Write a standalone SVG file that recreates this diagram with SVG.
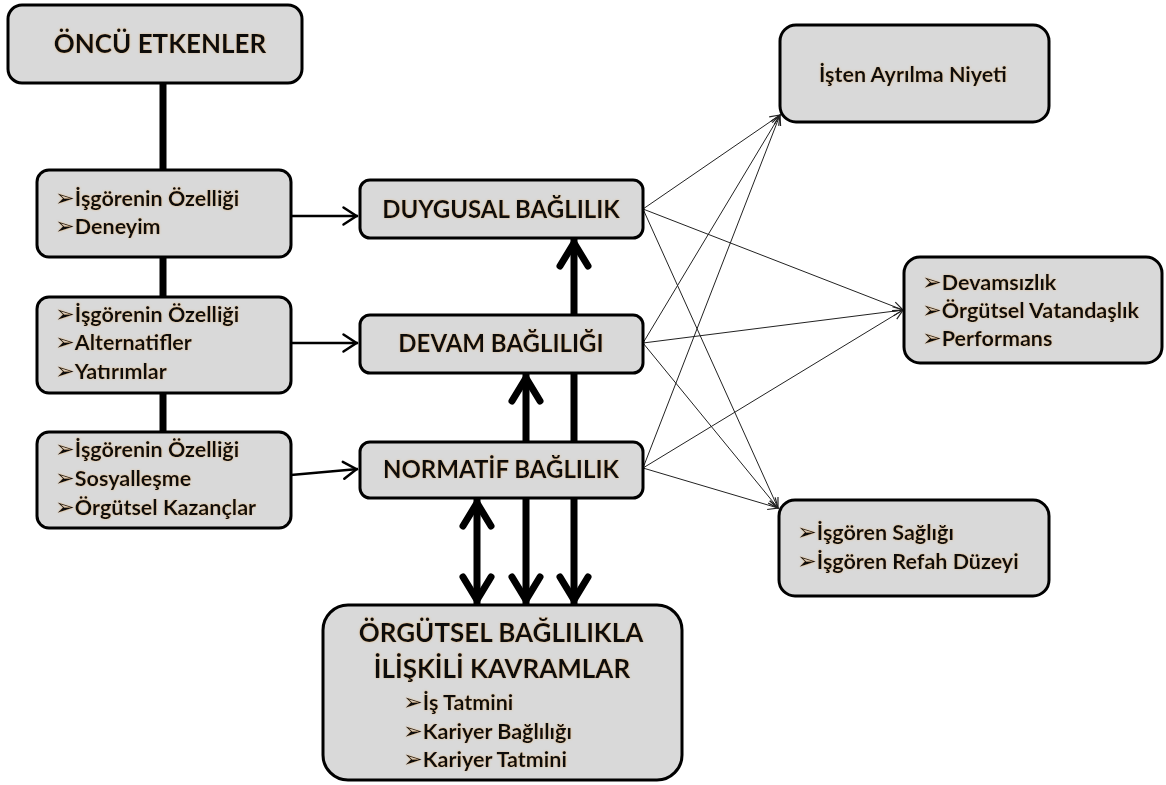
<svg xmlns="http://www.w3.org/2000/svg" width="1166" height="785" viewBox="0 0 1166 785">
<defs>
<style>
.box{fill:#d9d9d9;stroke:#000;stroke-width:3}
text{font-family:Lato,"Liberation Sans","DejaVu Sans",sans-serif;font-weight:bold;fill:#111;filter:url(#glow)}
.ar{font-family:"DejaVu Sans",sans-serif;font-size:1.1em;font-weight:bold}
.t20{font-size:21.5px}
.t22{font-size:24px}
.t24{font-size:26px}
.thin{stroke:#222;stroke-width:1;fill:none}
.mid{stroke:#000;stroke-width:2.5;fill:none}
.thick{stroke:#000;stroke-width:7;fill:none}
</style>
<filter id="glow" x="-5%" y="-20%" width="110%" height="140%">
<feGaussianBlur in="SourceAlpha" stdDeviation="0.9" result="b"/>
<feFlood flood-color="#e0a050" flood-opacity="0.55"/>
<feComposite in2="b" operator="in" result="g"/>
<feMerge><feMergeNode in="g"/><feMergeNode in="SourceGraphic"/></feMerge>
</filter>
<marker id="mThin" markerUnits="userSpaceOnUse" viewBox="-12 -8 14 16" markerWidth="14" markerHeight="16" refX="0" refY="0" orient="auto">
<path d="M-10,-4.5 L0,0 L-10,4.5" fill="none" stroke="#222" stroke-width="1.2"/>
</marker>
<marker id="mMid" markerUnits="userSpaceOnUse" viewBox="-16 -11 18 22" markerWidth="18" markerHeight="22" refX="1.5" refY="0" orient="auto">
<path d="M-13,-8.5 L0,0 L-13,8.5" fill="none" stroke="#000" stroke-width="2.5" stroke-linecap="round"/>
</marker>
<marker id="mThick" markerUnits="userSpaceOnUse" viewBox="-30 -22 38 44" markerWidth="38" markerHeight="44" refX="5" refY="0" orient="auto-start-reverse">
<path d="M-23,-14 L0,0 L-23,14" fill="none" stroke="#000" stroke-width="7" stroke-linecap="round" stroke-linejoin="miter"/>
</marker>
</defs>
<rect width="1166" height="785" fill="#fff"/>

<g id="connectors">
<line class="thick" x1="163" y1="82" x2="163" y2="432" stroke-width="8"/>
<line class="mid" x1="291" y1="216" x2="358" y2="216" marker-end="url(#mMid)"/>
<line class="mid" x1="291" y1="343" x2="358" y2="343" marker-end="url(#mMid)"/>
<line class="mid" x1="291" y1="475" x2="358" y2="469" marker-end="url(#mMid)"/>
<line class="thick" x1="574" y1="605" x2="574" y2="238" marker-start="url(#mThick)" marker-end="url(#mThick)"/>
<line class="thick" x1="526" y1="605" x2="526" y2="373" marker-start="url(#mThick)" marker-end="url(#mThick)"/>
<line class="thick" x1="477" y1="605" x2="477" y2="498" marker-start="url(#mThick)" marker-end="url(#mThick)"/>
<line class="thin" x1="643" y1="209" x2="780" y2="115" marker-end="url(#mThin)"/>
<line class="thin" x1="643" y1="209" x2="903" y2="310" marker-end="url(#mThin)"/>
<line class="thin" x1="643" y1="209" x2="778" y2="508" marker-end="url(#mThin)"/>
<line class="thin" x1="643" y1="343" x2="780" y2="115" marker-end="url(#mThin)"/>
<line class="thin" x1="643" y1="343" x2="903" y2="310" marker-end="url(#mThin)"/>
<line class="thin" x1="643" y1="343" x2="778" y2="508" marker-end="url(#mThin)"/>
<line class="thin" x1="643" y1="468" x2="780" y2="115" marker-end="url(#mThin)"/>
<line class="thin" x1="643" y1="468" x2="903" y2="310" marker-end="url(#mThin)"/>
<line class="thin" x1="643" y1="468" x2="778" y2="508" marker-end="url(#mThin)"/>
</g>

<g id="oncu">
<rect class="box" x="8" y="5" width="294" height="78" rx="14"/>
<text class="t24" x="160" y="53" text-anchor="middle">ÖNCÜ ETKENLER</text>
</g>
<g id="etken1">
<rect class="box" x="37" y="170" width="254" height="87" rx="12"/>
<text class="t20" x="55" y="206"><tspan class="ar">➢</tspan>İşgörenin Özelliği</text>
<text class="t20" x="55" y="234"><tspan class="ar">➢</tspan>Deneyim</text>
</g>
<g id="etken2">
<rect class="box" x="37" y="297" width="254" height="96" rx="12"/>
<text class="t20" x="55" y="322"><tspan class="ar">➢</tspan>İşgörenin Özelliği</text>
<text class="t20" x="55" y="350"><tspan class="ar">➢</tspan>Alternatifler</text>
<text class="t20" x="55" y="379"><tspan class="ar">➢</tspan>Yatırımlar</text>
</g>
<g id="etken3">
<rect class="box" x="37" y="432" width="254" height="96" rx="12"/>
<text class="t20" x="55" y="457"><tspan class="ar">➢</tspan>İşgörenin Özelliği</text>
<text class="t20" x="55" y="486"><tspan class="ar">➢</tspan>Sosyalleşme</text>
<text class="t20" x="55" y="515"><tspan class="ar">➢</tspan>Örgütsel Kazançlar</text>
</g>
<g id="duygusal">
<rect class="box" x="360" y="180" width="283" height="58" rx="10"/>
<text class="t22" x="501" y="218" text-anchor="middle">DUYGUSAL BAĞLILIK</text>
</g>
<g id="devam">
<rect class="box" x="360" y="315" width="283" height="58" rx="10"/>
<text class="t22" x="501" y="352" text-anchor="middle">DEVAM BAĞLILIĞI</text>
</g>
<g id="normatif">
<rect class="box" x="360" y="442" width="283" height="56" rx="10"/>
<text class="t22" x="501" y="478" text-anchor="middle">NORMATİF BAĞLILIK</text>
</g>
<g id="orgutsel">
<rect class="box" x="323" y="605" width="359" height="175" rx="25"/>
<text class="t24" x="501" y="642" text-anchor="middle">ÖRGÜTSEL BAĞLILIKLA</text>
<text class="t24" x="502" y="678" text-anchor="middle">İLİŞKİLİ KAVRAMLAR</text>
<text class="t20" x="403" y="710"><tspan class="ar">➢</tspan>İş Tatmini</text>
<text class="t20" x="403" y="739"><tspan class="ar">➢</tspan>Kariyer Bağlılığı</text>
<text class="t20" x="403" y="767"><tspan class="ar">➢</tspan>Kariyer Tatmini</text>
</g>
<g id="isten">
<rect class="box" x="780" y="25" width="269" height="97" rx="16"/>
<text class="t20" x="913" y="82" text-anchor="middle">İşten Ayrılma Niyeti</text>
</g>
<g id="devamsizlik">
<rect class="box" x="904" y="257" width="258" height="106" rx="16"/>
<text class="t20" x="922" y="290"><tspan class="ar">➢</tspan>Devamsızlık</text>
<text class="t20" x="922" y="318"><tspan class="ar">➢</tspan>Örgütsel Vatandaşlık</text>
<text class="t20" x="922" y="346"><tspan class="ar">➢</tspan>Performans</text>
</g>
<g id="isgoren">
<rect class="box" x="779" y="500" width="270" height="96" rx="16"/>
<text class="t20" x="797" y="540"><tspan class="ar">➢</tspan>İşgören Sağlığı</text>
<text class="t20" x="797" y="569"><tspan class="ar">➢</tspan>İşgören Refah Düzeyi</text>
</g>
</svg>
